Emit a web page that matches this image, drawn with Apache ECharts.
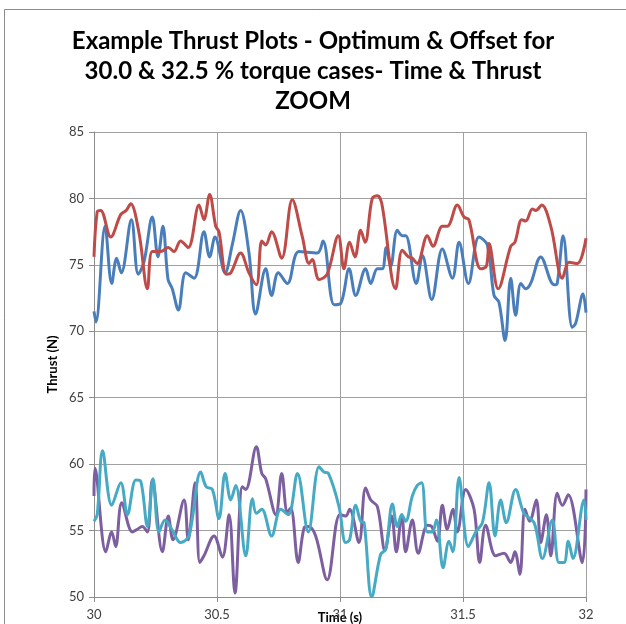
<!DOCTYPE html>
<html><head><meta charset="utf-8">
<script src="https://cdn.jsdelivr.net/npm/echarts@6/dist/echarts.min.js"></script>
<style>html,body{margin:0;padding:0;background:#fff;overflow:hidden}#c{width:626px;height:624px}</style>
</head><body><div id="c"></div>
<script>
const chartTitle = 'Example Thrust Plots - Optimum & Offset for\n30.0 & 32.5 % torque cases- Time & Thrust\nZOOM';
const xAxisName = 'Time (s)';
const yAxisName = 'Thrust (N)';
const xMin = 30, xMax = 32, xStep = 0.5;
const yMin = 50, yMax = 85, yStep = 5;

// [time (s), thrust (N)]
const blueSeries = [
[30.000,71.5],[30.008,70.7],[30.045,77.9],[30.072,73.6],[30.092,75.5],[30.111,74.4],[30.152,78.4],
[30.180,74.3],[30.203,75.2],[30.237,78.6],[30.260,75.6],[30.280,77.9],[30.301,73.9],[30.318,73.2],
[30.343,71.6],[30.373,74.4],[30.407,74.0],[30.447,77.5],[30.470,75.6],[30.492,77.1],[30.533,74.4],
[30.562,76.5],[30.596,79.1],[30.630,75.9],[30.657,71.3],[30.698,74.7],[30.722,72.7],[30.749,74.4],
[30.786,73.6],[30.833,76.0],[30.908,75.9],[30.931,76.8],[30.976,72.0],[31.003,72.1],[31.037,74.7],
[31.064,72.7],[31.104,74.7],[31.125,73.6],[31.152,74.7],[31.172,74.7],[31.188,76.3],[31.206,74.9],
[31.233,77.6],[31.253,77.2],[31.267,77.2],[31.310,73.6],[31.335,75.7],[31.373,72.4],[31.416,76.2],
[31.457,74.0],[31.484,76.7],[31.522,73.6],[31.565,77.1],[31.599,76.5],[31.626,72.7],[31.646,72.2],
[31.671,69.3],[31.694,74.0],[31.714,71.2],[31.735,73.6],[31.755,73.2],[31.775,73.6],[31.816,75.6],
[31.870,73.5],[31.883,73.6],[31.907,77.2],[31.944,70.3],[31.958,70.6],[31.988,72.8],[32.000,71.4]
];
const redSeries = [
[30.000,75.6],[30.013,79.0],[30.027,79.1],[30.068,77.1],[30.109,78.8],[30.131,79.1],[30.149,79.6],
[30.183,77.4],[30.217,73.2],[30.237,76.0],[30.271,76.0],[30.302,76.3],[30.325,76.0],[30.352,76.8],
[30.383,76.3],[30.427,79.5],[30.447,78.4],[30.470,80.3],[30.495,77.9],[30.508,77.5],[30.538,74.3],
[30.556,74.4],[30.596,75.9],[30.630,74.4],[30.660,73.5],[30.682,76.8],[30.698,76.5],[30.722,77.5],
[30.763,75.5],[30.806,79.9],[30.847,77.1],[30.874,75.1],[30.887,75.4],[30.915,73.9],[30.948,74.3],
[30.993,77.2],[31.016,74.7],[31.039,76.7],[31.061,75.6],[31.084,77.6],[31.102,76.7],[31.131,80.0],
[31.152,80.2],[31.170,79.6],[31.226,73.2],[31.253,76.1],[31.278,75.6],[31.294,75.5],[31.314,75.1],
[31.355,77.2],[31.378,76.4],[31.416,77.9],[31.436,77.9],[31.477,79.5],[31.504,78.6],[31.524,78.4],
[31.572,74.7],[31.595,74.9],[31.606,76.6],[31.643,73.2],[31.694,76.4],[31.711,76.7],[31.739,78.4],
[31.755,78.3],[31.782,79.2],[31.796,79.1],[31.820,79.5],[31.857,77.9],[31.904,74.0],[31.931,75.2],
[31.965,75.1],[32.000,77.0]
];
const purpleSeries = [
[30.000,57.6],[30.004,59.7],[30.048,53.4],[30.072,54.9],[30.088,53.8],[30.113,57.1],[30.156,54.9],
[30.176,55.1],[30.196,55.3],[30.217,54.9],[30.237,58.8],[30.278,53.4],[30.302,56.1],[30.321,54.3],
[30.366,57.3],[30.383,54.3],[30.411,58.6],[30.430,52.6],[30.447,53.1],[30.488,54.6],[30.522,53.0],
[30.549,56.2],[30.573,50.3],[30.603,58.3],[30.617,58.1],[30.660,61.3],[30.682,59.3],[30.698,58.9],
[30.739,56.2],[30.763,59.3],[30.786,56.4],[30.800,56.7],[30.830,52.6],[30.854,55.2],[30.871,55.3],
[30.901,54.6],[30.948,51.3],[30.999,56.2],[31.023,56.1],[31.039,56.6],[31.077,54.1],[31.104,58.2],
[31.125,57.3],[31.152,56.8],[31.183,53.5],[31.210,56.1],[31.229,53.4],[31.251,56.2],[31.267,53.4],
[31.294,55.8],[31.318,53.3],[31.355,55.4],[31.373,55.3],[31.396,54.2],[31.416,56.9],[31.436,55.1],
[31.459,56.6],[31.477,54.9],[31.511,58.1],[31.545,56.6],[31.568,52.6],[31.592,55.4],[31.633,53.1],
[31.667,53.3],[31.694,52.6],[31.711,53.4],[31.731,51.7],[31.752,56.6],[31.771,55.7],[31.798,57.3],
[31.816,54.1],[31.839,56.2],[31.857,53.1],[31.883,57.8],[31.904,56.9],[31.928,57.7],[31.985,52.6],
[32.000,58.1]
];
const cyanSeries = [
[30.000,55.7],[30.013,56.2],[30.035,61.0],[30.072,56.9],[30.109,58.6],[30.136,56.2],[30.170,58.8],
[30.190,58.7],[30.217,55.3],[30.240,58.9],[30.264,54.9],[30.289,55.8],[30.316,55.1],[30.352,54.1],
[30.386,54.6],[30.434,59.4],[30.456,58.3],[30.481,58.1],[30.508,55.9],[30.533,59.3],[30.556,57.3],
[30.576,58.4],[30.617,53.1],[30.644,57.4],[30.660,56.3],[30.682,56.6],[30.722,54.6],[30.759,56.6],
[30.790,56.2],[30.827,59.3],[30.871,54.9],[30.915,59.8],[30.935,59.4],[30.953,59.3],[30.996,56.8],
[31.023,54.1],[31.039,54.3],[31.064,56.9],[31.084,55.7],[31.098,55.6],[31.129,50.0],[31.165,53.2],
[31.186,53.6],[31.213,57.0],[31.233,55.3],[31.251,56.2],[31.267,55.7],[31.294,57.6],[31.314,58.4],
[31.332,58.6],[31.355,54.9],[31.375,54.9],[31.392,55.8],[31.419,52.2],[31.443,54.2],[31.459,53.4],
[31.484,59.0],[31.522,53.8],[31.552,54.9],[31.579,55.6],[31.606,58.6],[31.630,54.6],[31.653,57.3],
[31.676,55.6],[31.714,58.1],[31.748,56.3],[31.789,55.6],[31.823,52.9],[31.863,55.8],[31.890,52.6],
[31.911,52.6],[31.928,54.2],[31.947,52.9],[31.992,57.3],[32.000,55.8]
];

const seriesNames = ['Optimum 30.0 %', 'Offset 30.0 %', 'Optimum 32.5 %', 'Offset 32.5 %'];
const seriesData = [blueSeries, redSeries, purpleSeries, cyanSeries];
const seriesColors = ['#4A7EBB', '#BE4B48', '#7D5FA0', '#46AAC5'];

const font = 'Lato, "Open Sans", sans-serif';
const chart = echarts.init(document.getElementById('c'), null, {renderer: 'canvas'});
chart.setOption({
  animation: false,
  backgroundColor: '#fff',
  title: {
    text: chartTitle,
    left: 'center',
    top: 21,
    textStyle: {fontFamily: font, fontSize: 24, fontWeight: 'bold', color: '#000', lineHeight: 30}
  },
  graphic: [{
    type: 'rect', silent: true, z: -1,
    shape: {x: 4.5, y: 9.5, width: 700, height: 700},
    style: {fill: 'none', stroke: '#8a8a8a', lineWidth: 1}
  }],
  grid: {left: 94, right: 40, top: 132, bottom: 27, containLabel: false, outerBoundsMode: 'none'},
  xAxis: {
    type: 'value', min: xMin, max: xMax, interval: xStep,
    name: xAxisName, nameLocation: 'middle', nameGap: 14, nameMoveOverlap: false,
    nameTextStyle: {fontFamily: font, fontSize: 13, fontWeight: 'bold', color: '#000'},
    axisLine: {show: true, onZero: false, lineStyle: {color: '#8c8c8c', width: 1}},
    axisTick: {show: true, length: 5, inside: false, lineStyle: {color: '#8c8c8c'}},
    axisLabel: {fontFamily: font, fontSize: 13, color: '#404040', margin: 11,
      formatter: v => String(Math.round(v * 10) / 10)},
    splitLine: {show: true, lineStyle: {color: '#a0a0a0', width: 1}}
  },
  yAxis: {
    type: 'value', min: yMin, max: yMax, interval: yStep,
    name: yAxisName, nameLocation: 'middle', nameGap: 35, nameMoveOverlap: false,
    nameTextStyle: {fontFamily: font, fontSize: 13, fontWeight: 'bold', color: '#000'},
    axisLine: {show: true, lineStyle: {color: '#8c8c8c', width: 1}},
    axisTick: {show: true, length: 5, inside: false, lineStyle: {color: '#8c8c8c'}},
    axisLabel: {fontFamily: font, fontSize: 13, color: '#404040', margin: 10},
    splitLine: {show: true, lineStyle: {color: '#a0a0a0', width: 1}}
  },
  series: seriesData.map((d, i) => ({
    name: seriesNames[i], type: 'line', data: d, smooth: 0.35,
    showSymbol: false, symbol: 'none', clip: true,
    lineStyle: {color: seriesColors[i], width: 3},
    itemStyle: {color: seriesColors[i]}
  }))
});
</script></body></html>
